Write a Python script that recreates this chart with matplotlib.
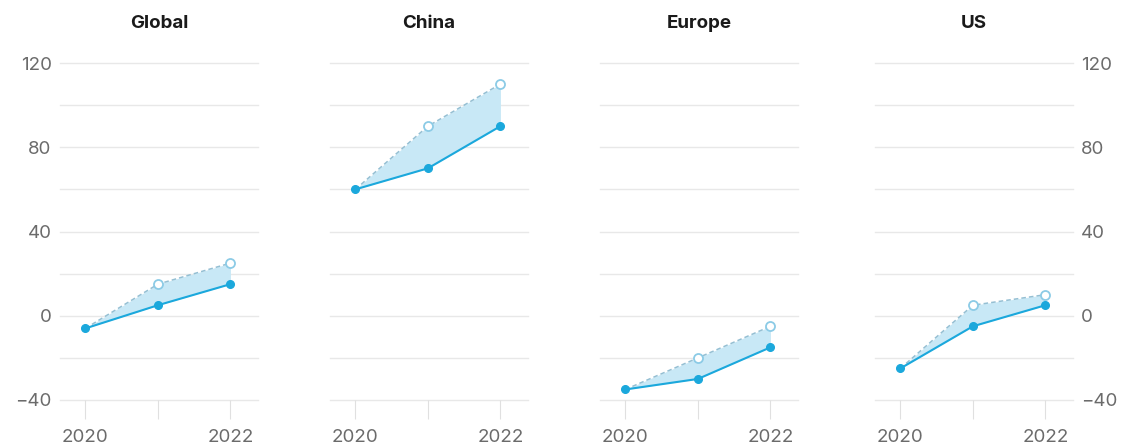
import matplotlib.pyplot as plt
import numpy as np

plt.rcParams['font.family'] = ['Inter', 'DejaVu Sans']

regions = ['Global', 'China', 'Europe', 'US']
years = [2020, 2021, 2022]
# solid line: actual, dashed line: upper estimate
actual = {
    'Global': [-6, 5, 15],
    'China': [60, 70, 90],
    'Europe': [-35, -30, -15],
    'US': [-25, -5, 5],
}
upper = {
    'Global': [-6, 15, 25],
    'China': [60, 90, 110],
    'Europe': [-35, -20, -5],
    'US': [-25, 5, 10],
}
yticks = [-40, 0, 40, 80, 120]
xlabels = {2020: '2020', 2021: '', 2022: '2022'}

blue = '#1ba8dc'
light = '#c8e8f6'
dash_col = '#94bfd3'
ring_col = '#8ccbe6'
grid_col = '#e8e8e8'
text_col = '#6b6b6b'

W, H = 1126, 447
fig = plt.figure(figsize=(W / 100, H / 100), dpi=100)
lefts = [60, 330, 600, 875]
ax_w = 198
bottom, top = 400, 63

for i, (name, left) in enumerate(zip(regions, lefts)):
    ax = fig.add_axes([left / W, 1 - bottom / H, ax_w / W, (bottom - top) / H])
    ax.set_xlim(2019.65, 2022.38)
    ax.set_ylim(-40, 120)
    for g in range(-40, 121, 20):
        ax.axhline(g, color=grid_col, lw=1, zorder=0, clip_on=False)

    lo = np.array(actual[name])
    hi = np.array(upper[name])
    ax.fill_between(years, lo, hi, color=light, lw=0, zorder=1)
    ax.plot(years, hi, ls=(0, (3, 2)), color=dash_col, lw=1.1, zorder=2)
    ax.plot(years[1:], hi[1:], ls='none', marker='o', ms=6.5, mfc='white',
            mec=ring_col, mew=1.3, zorder=4, clip_on=False)
    ax.plot(years, lo, color=blue, lw=1.5, marker='o', ms=5.5, mfc=blue,
            mec=blue, zorder=3, clip_on=False)

    for s in ax.spines.values():
        s.set_visible(False)
    ax.set_xticks(years)
    ax.set_xticklabels([xlabels[y] for y in years])
    ax.tick_params(axis='x', length=14, width=0.8, color='#e0e0e0',
                   labelsize=13.5, labelcolor=text_col, pad=7)
    ax.set_yticks(yticks)
    if i == 0:
        ax.tick_params(axis='y', length=0, labelsize=13.5, labelcolor=text_col, pad=6)
    elif i == len(regions) - 1:
        ax.yaxis.tick_right()
        ax.tick_params(axis='y', length=0, labelsize=13.5, labelcolor=text_col, pad=6)
    else:
        ax.tick_params(axis='y', length=0, labelleft=False)
    ax.set_title(name, fontsize=13.5, fontweight='bold', color='#1a1a1a', pad=25)

fig.savefig('out.png', dpi=100, facecolor='white')
